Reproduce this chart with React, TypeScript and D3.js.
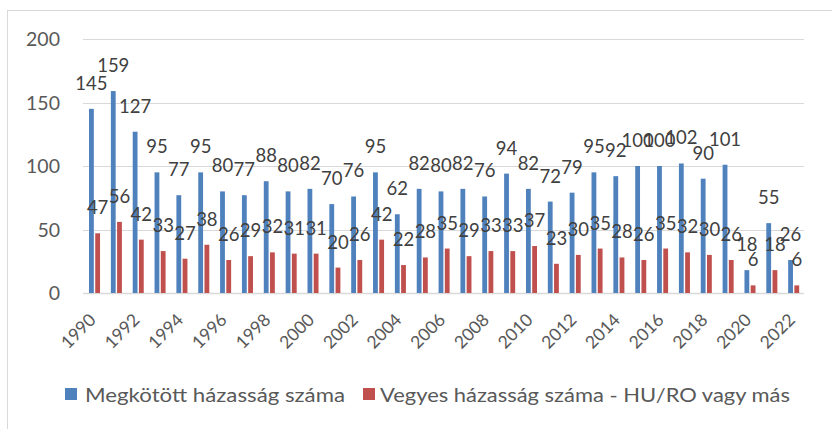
import React from 'react';
import * as d3 from 'd3';

const years = d3.range(1990, 2023).map(String);
const married = [145, 159, 127, 95, 77, 95, 80, 77, 88, 80, 82, 70, 76, 95, 62, 82, 80, 82, 76, 94, 82, 72, 79, 95, 92, 100, 100, 102, 90, 101, 18, 55, 26];
const mixed = [47, 56, 42, 33, 27, 38, 26, 29, 32, 31, 31, 20, 26, 42, 22, 28, 35, 29, 33, 33, 37, 23, 30, 35, 28, 26, 35, 32, 30, 26, 6, 18, 6];
const yTicks = [0, 50, 100, 150, 200];
const seriesNames = ['Megkötött házasság száma', 'Vegyes házasság száma - HU/RO vagy más'];
const colors = ['#4f81bd', '#c0504d'];

const W = 832;
const H = 429;
const plot = { left: 83, right: 804, top: 39, bottom: 293 };
const font = 'Lato, "Open Sans", sans-serif';
const textColor = '#595959';

const App: React.FC = () => {
  const x = d3.scaleBand<string>().domain(years).range([plot.left, plot.right]).paddingInner(0).paddingOuter(0);
  const y = d3.scaleLinear().domain([0, 200]).range([plot.bottom, plot.top]);
  const bw = x.bandwidth();
  const barW = bw * 0.22;
  const offsets = [bw * 0.275, bw * 0.56];
  const series = [married, mixed];

  return (
    <svg width={W} height={H} style={{ position: 'fixed', left: 0, top: 0, background: '#fff' }} fontFamily={font}>
      <rect x={0} y={0} width={W} height={H} fill="#fff" />
      <rect x={7.5} y={10.5} width={W} height={H} fill="none" stroke="#d9d9d9" />

      {/* gridlines + y labels */}
      {yTicks.map(t => (
        <g key={t}>
          <line x1={plot.left} x2={plot.right} y1={Math.round(y(t)) + 0.5} y2={Math.round(y(t)) + 0.5} stroke="#d9d9d9" strokeWidth={t === 0 ? 1.5 : 1.2} />
          <text x={60} y={y(t)} dy="0.36em" textAnchor="end" fontSize={19.5} fill={textColor}>{t}</text>
        </g>
      ))}

      {/* bars */}
      {series.map((vals, si) => (
        <g key={si}>
          {vals.map((v, i) => (
            <rect key={i} x={x(years[i])! + offsets[si]} y={y(v)} width={barW} height={y(0) - y(v)} fill={colors[si]} />
          ))}
        </g>
      ))}

      {/* data labels */}
      {series.map((vals, si) => (
        <g key={'l' + si}>
          {vals.map((v, i) => (
            <text key={i} x={x(years[i])! + offsets[si] + barW / 2} y={y(v) - 19} textAnchor="middle" fontSize={18.5} fill="#404040">{v}</text>
          ))}
        </g>
      ))}

      {/* x labels */}
      {years.filter((_, i) => i % 2 === 0).map(yr => {
        const cx = x(yr)! + bw / 2 + 3;
        const cy = 321;
        return (
          <text key={yr} x={cx} y={cy} textAnchor="end" fontSize={17.5} fill={textColor} transform={`rotate(-45 ${cx} ${cy})`}>{yr}</text>
        );
      })}

      {/* legend */}
      <rect x={65} y={388} width={12} height={12} fill={colors[0]} />
      <text x={85} y={402} fontSize={19.5} fill={textColor} textLength={260} lengthAdjust="spacingAndGlyphs">{seriesNames[0]}</text>
      <rect x={363} y={388} width={12} height={12} fill={colors[1]} />
      <text x={380} y={402} fontSize={19.5} fill={textColor} textLength={410} lengthAdjust="spacingAndGlyphs">{seriesNames[1]}</text>
    </svg>
  );
};

export default App;
